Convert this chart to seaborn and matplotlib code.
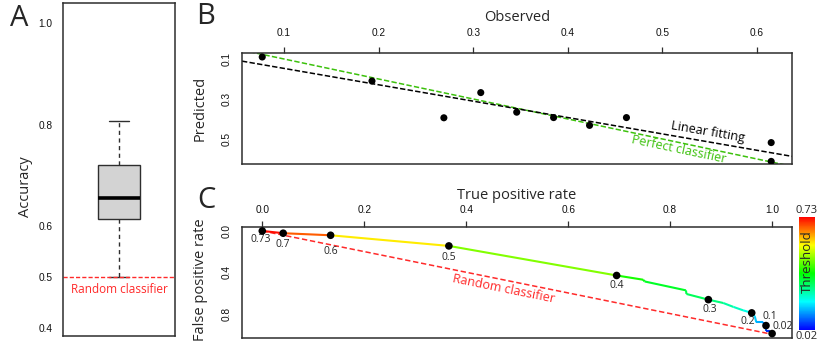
import numpy as np
import seaborn as sns
import matplotlib
matplotlib.use("Agg")
import matplotlib.pyplot as plt
from matplotlib.collections import LineCollection
from matplotlib.colors import LinearSegmentedColormap, Normalize
from matplotlib.cm import ScalarMappable

# ---- panel A: accuracy distribution (values chosen to give the box summary)
accuracy = [0.50, 0.58, 0.615, 0.64, 0.655, 0.69, 0.72, 0.76, 0.807]
random_accuracy = 0.5
acc_ticks = [0.4, 0.5, 0.6, 0.8, 1.0]
acc_ticklabels = ["0.4", "0.5", "0.6", "0.8", "1.0"]

# ---- panel B: observed vs predicted
observed = [0.077, 0.193, 0.269, 0.308, 0.346, 0.385, 0.423, 0.462, 0.615, 0.615]
predicted = [0.090, 0.210, 0.394, 0.268, 0.366, 0.393, 0.432, 0.393, 0.518, 0.612]
obs_ticks = [0.1, 0.2, 0.3, 0.4, 0.5, 0.6]
obs_ticklabels = ["0.1", "0.2", "0.3", "0.4", "0.5", "0.6"]
pred_ticks = [0.1, 0.2, 0.3, 0.4, 0.5, 0.6]
pred_ticklabels = ["0.1", "", "0.3", "", "0.5", ""]

# ---- panel C: ROC curve vertices, coloured by threshold
roc_tpr = [0.0, 0.041, 0.134, 0.366, 0.695, 0.747, 0.750, 0.831, 0.832, 0.875,
           0.904, 0.924, 0.943, 0.960, 0.966, 0.969, 0.982, 0.988, 0.988, 0.996, 1.0]
roc_fpr = [0.0, 0.022, 0.042, 0.145, 0.431, 0.472, 0.489, 0.575, 0.610, 0.665,
           0.697, 0.735, 0.768, 0.793, 0.826, 0.884, 0.884, 0.916, 0.971, 0.971, 0.993]
roc_thr = [0.73, 0.70, 0.60, 0.50, 0.40, 0.37, 0.36, 0.33, 0.32, 0.30,
           0.27, 0.25, 0.22, 0.20, 0.17, 0.15, 0.12, 0.10, 0.06, 0.04, 0.02]
marked_thr = [0.73, 0.7, 0.6, 0.5, 0.4, 0.3, 0.2, 0.1, 0.02]
marked_txt = ["0.73", "0.7", "0.6", "0.5", "0.4", "0.3", "0.2", "0.1", "0.02"]
tpr_ticks = [0.0, 0.2, 0.4, 0.6, 0.8, 1.0]
tpr_ticklabels = ["0.0", "0.2", "0.4", "0.6", "0.8", "1.0"]
fpr_ticks = [0.0, 0.2, 0.4, 0.6, 0.8, 1.0]
fpr_ticklabels = ["0.0", "", "0.4", "", "0.8", ""]

# label offsets (points) for the threshold annotations
label_offsets = [(-1, -6), (0, -8), (0, -12), (0, -8), (0, -7), (1, -7),
                 (-3, -6.5), (3, 6.5), (8, 5)]

sns.set_style("white")
plt.rcParams["font.family"] = ["Open Sans", "DejaVu Sans"]

SPINE = "#2e2e2e"
RED = "#ff2a2a"
GREEN = "#3cc10c"

fig = plt.figure(figsize=(8.17, 3.41), dpi=100)
axA = fig.add_axes([0.0771, 0.0147, 0.1371, 0.9765])
axB = fig.add_axes([0.2962, 0.5191, 0.6732, 0.3255])
axC = fig.add_axes([0.2962, 0.0088, 0.6732, 0.3264])
cax = fig.add_axes([0.978, 0.0323, 0.0196, 0.3323])


def style_axes(ax):
    for s in ax.spines.values():
        s.set_visible(True)
        s.set_color(SPINE)
        s.set_linewidth(1.1)
    ax.tick_params(direction="out", length=4.5, width=0.9, color=SPINE,
                   labelsize=7.3, labelcolor="#111111")
    for lab in ax.get_xticklabels() + ax.get_yticklabels():
        lab.set_family(["Liberation Sans", "DejaVu Sans"])


# ---------------- A
sns.boxplot(y=accuracy, ax=axA, color="#d3d3d3", linecolor=SPINE, linewidth=1.0,
            width=0.37, showfliers=False,
            whiskerprops=dict(linestyle=(0, (3, 2.5))),
            medianprops=dict(color="black", linewidth=2.6))
axA.axhline(random_accuracy, color=RED, lw=1.0, ls=(0, (3, 1.5)))
axA.text(0.0, random_accuracy - 0.012, "Random classifier", color=RED,
         fontsize=8.5, ha="center", va="top")
axA.set_xlim(-0.5, 0.5)
axA.set_ylim(0.384, 1.039)
axA.set_xticks([])
axA.set_yticks(acc_ticks)
axA.set_yticklabels(acc_ticklabels)
axA.set_ylabel("Accuracy", fontsize=10.5)
axA.yaxis.set_label_coords(-0.27, 0.45)
style_axes(axA)
axA.tick_params(axis="y", length=5.5, pad=2)
fig.text(19 / 817, 1 - 19 / 341, "A", fontsize=21, ha="center", va="center")

# ---------------- B
sns.scatterplot(x=observed, y=predicted, ax=axB, color="black", s=26,
                edgecolor="none", zorder=5)
xl = (0.0556, 0.637)
yl = (0.625, 0.07)
axB.set_xlim(*xl)
axB.set_ylim(*yl)
xs = np.array(xl)
coef = np.polyfit(observed, predicted, 1)
axB.plot(xs, xs, color=GREEN, lw=1.1, ls=(0, (3.5, 1.5)))
axB.plot(xs, np.polyval(coef, xs), color="black", lw=1.1, ls=(0, (3.5, 1.5)))
axB.xaxis.tick_top()
axB.xaxis.set_label_position("top")
axB.set_xticks(obs_ticks)
axB.set_xticklabels(obs_ticklabels)
axB.set_yticks(pred_ticks)
axB.set_yticklabels(pred_ticklabels, rotation=90, va="center")
axB.set_xlabel("Observed", fontsize=10.5, labelpad=5)
axB.set_ylabel("Predicted", fontsize=10.5)
axB.yaxis.set_label_coords(-0.062, 0.5)
style_axes(axB)
axB.tick_params(axis="x", pad=6)
axB.tick_params(axis="y", pad=3)


def screen_angle(ax, x0, y0, x1, y1):
    p0 = ax.transData.transform((x0, y0))
    p1 = ax.transData.transform((x1, y1))
    return np.degrees(np.arctan2(p1[1] - p0[1], p1[0] - p0[0]))


ang_fit = screen_angle(axB, xs[0], np.polyval(coef, xs[0]), xs[1], np.polyval(coef, xs[1]))
ang_perf = screen_angle(axB, xs[0], xs[0], xs[1], xs[1])
axB.text(0.548, np.polyval(coef, 0.548) - 0.047, "Linear fitting", fontsize=9,
         color="black", rotation=ang_fit, rotation_mode="anchor",
         ha="center", va="center")
axB.text(0.5175, 0.5175 + 0.034, "Perfect classifier", fontsize=9, color=GREEN,
         rotation=ang_perf, rotation_mode="anchor", ha="center", va="center")
fig.text(206 / 817, 1 - 16 / 341, "B", fontsize=21, ha="center", va="center")

# ---------------- C
cmap = LinearSegmentedColormap.from_list(
    "thr", ["#0000ff", "#00ffff", "#00ff00", "#ffff00", "#ff0000"])
norm = Normalize(min(roc_thr), max(roc_thr))
pts = np.column_stack([roc_tpr, roc_fpr])
segs = np.stack([pts[:-1], pts[1:]], axis=1)
seg_thr = 0.65 * np.array(roc_thr[:-1]) + 0.35 * np.array(roc_thr[1:])
lc = LineCollection(segs, colors=cmap(norm(seg_thr)), linewidths=1.5, zorder=3)
axC.add_collection(lc)
axC.plot([0, 1], [0, 1], color=RED, lw=1.1, ls=(0, (3.5, 1.8)), zorder=2)

idx = [roc_thr.index(t) for t in marked_thr]
mx = [roc_tpr[i] for i in idx]
my = [roc_fpr[i] for i in idx]
sns.scatterplot(x=mx, y=my, ax=axC, color="black", s=30, edgecolor="none", zorder=5)
for x, y, t, off in zip(mx, my, marked_txt, label_offsets):
    axC.annotate(t, (x, y), xytext=off, textcoords="offset points",
                 ha="center", va="center", fontsize=7.5)

axC.set_xlim(-0.0398, 1.039)
axC.set_ylim(1.036, -0.041)
ang_rand = screen_angle(axC, 0, 0, 1, 1)
axC.text(0.474, 0.559, "Random classifier", fontsize=9, color=RED,
         rotation=ang_rand, rotation_mode="anchor", ha="center", va="center")
axC.xaxis.tick_top()
axC.xaxis.set_label_position("top")
axC.set_xticks(tpr_ticks)
axC.set_xticklabels(tpr_ticklabels)
axC.set_yticks(fpr_ticks)
axC.set_yticklabels(fpr_ticklabels, rotation=90, va="center")
axC.set_xlabel("True positive rate", fontsize=10.5, labelpad=4)
axC.set_ylabel("False positive rate", fontsize=10.5)
axC.yaxis.set_label_coords(-0.062, 0.52)
style_axes(axC)
axC.tick_params(axis="x", pad=4)
axC.tick_params(axis="y", pad=3)
fig.text(206 / 817, 1 - 200 / 341, "C", fontsize=21, ha="center", va="center")

# colorbar
cb = fig.colorbar(ScalarMappable(norm=norm, cmap=cmap), cax=cax)
cb.set_ticks([])
cb.outline.set_visible(False)
cax.text(0.5, 1.01, "0.73", transform=cax.transAxes, ha="center", va="bottom", fontsize=8)
cax.text(0.5, -0.01, "0.02", transform=cax.transAxes, ha="center", va="top", fontsize=8)
cax.text(0.5, 0.6, "Threshold", transform=cax.transAxes, ha="center", va="center",
         rotation=90, fontsize=9.5)

fig.savefig("out.png", dpi=100)
